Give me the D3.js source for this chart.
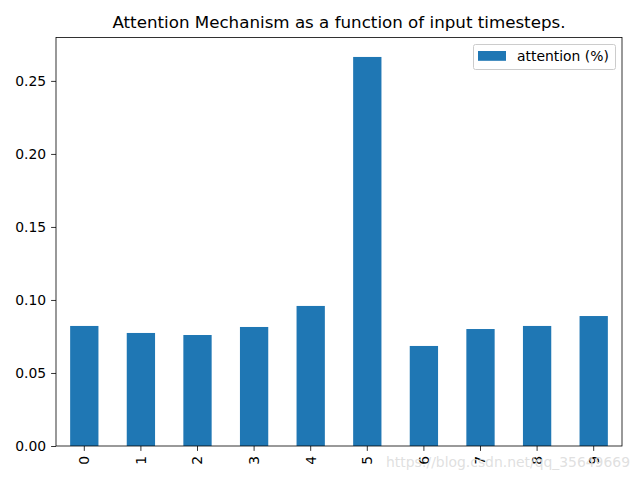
<!DOCTYPE html>
<html><head><meta charset="utf-8">
<script src="https://cdn.jsdelivr.net/npm/d3@7"></script>
<style>body{margin:0;background:#fff}svg{display:block}text{font-family:"DejaVu Sans",sans-serif}</style>
</head><body>
<svg id="c" width="640" height="480"></svg>
<script>
const categories = ["0","1","2","3","4","5","6","7","8","9"];
const attention = [0.0822, 0.0774, 0.0760, 0.0815, 0.0959, 0.2664, 0.0685, 0.0801, 0.0822, 0.0890];
const yTicks = [0, 0.05, 0.10, 0.15, 0.20, 0.25];
const seriesName = "attention (%)";
const title = "Attention Mechanism as a function of input timesteps.";

const svg = d3.select("#c");
const L = 56, R = 622, T = 37.5, B = 446;
const x = d3.scaleBand().domain(categories).range([L, R]).paddingInner(0.5).paddingOuter(0.25);
const y = d3.scaleLinear().domain([0, d3.max(attention) * 1.05]).range([B, T]);
const color = "#1f77b4";

svg.append("g").selectAll("rect").data(attention).join("rect")
  .attr("x", (d, i) => x(categories[i]))
  .attr("width", x.bandwidth())
  .attr("y", d => y(d))
  .attr("height", d => B - y(d))
  .attr("fill", color);

const yAxis = svg.append("g").attr("transform", `translate(${L},0)`)
  .call(d3.axisLeft(y).tickValues(yTicks).tickFormat(d3.format(".2f")).tickSize(4.9).tickPadding(4.9));
const xAxis = svg.append("g").attr("transform", `translate(0,${B})`)
  .call(d3.axisBottom(x).tickSize(4.9).tickPadding(0));
[yAxis, xAxis].forEach(a => {
  a.select(".domain").remove();
  a.selectAll("line").attr("stroke", "#000").attr("stroke-width", 0.8);
  a.selectAll("text").attr("font-size", "13.9px").attr("fill", "#000").attr("font-family", "DejaVu Sans");
});
yAxis.selectAll("text").attr("dy", "0.34em");
xAxis.selectAll("text")
  .attr("transform", "translate(0,9.8) rotate(-90)")
  .attr("text-anchor", "end").attr("x", 0).attr("y", 0).attr("dy", "0.35em");

svg.append("rect").attr("x", L).attr("y", T).attr("width", R - L).attr("height", B - T)
  .attr("fill", "none").attr("stroke", "#000").attr("stroke-width", 0.8);

svg.append("text").attr("x", (L + R) / 2).attr("y", 28).attr("text-anchor", "middle")
  .attr("font-size", "16.7px").attr("fill", "#000").text(title);

const lg = svg.append("g");
lg.append("rect").attr("x", 473.5).attr("y", 44.5).attr("width", 142).attr("height", 25).attr("rx", 2)
  .attr("fill", "#fff").attr("fill-opacity", 0.8).attr("stroke", "#ccc").attr("stroke-width", 1);
lg.append("rect").attr("x", 478).attr("y", 51).attr("width", 28).attr("height", 9.8).attr("fill", color);
lg.append("text").attr("x", 517).attr("y", 61).attr("font-size", "13.9px").attr("fill", "#000").text(seriesName);

svg.append("text").attr("x", 386).attr("y", 467).attr("font-size", "14px")
  .attr("font-family", "Liberation Sans, Arial, sans-serif")
  .attr("textLength", 244).attr("lengthAdjust", "spacingAndGlyphs")
  .attr("fill", "#dcdcdc").attr("fill-opacity", 0.9).text("https://blog.csdn.net/qq_35649669");
</script>
</body></html>
